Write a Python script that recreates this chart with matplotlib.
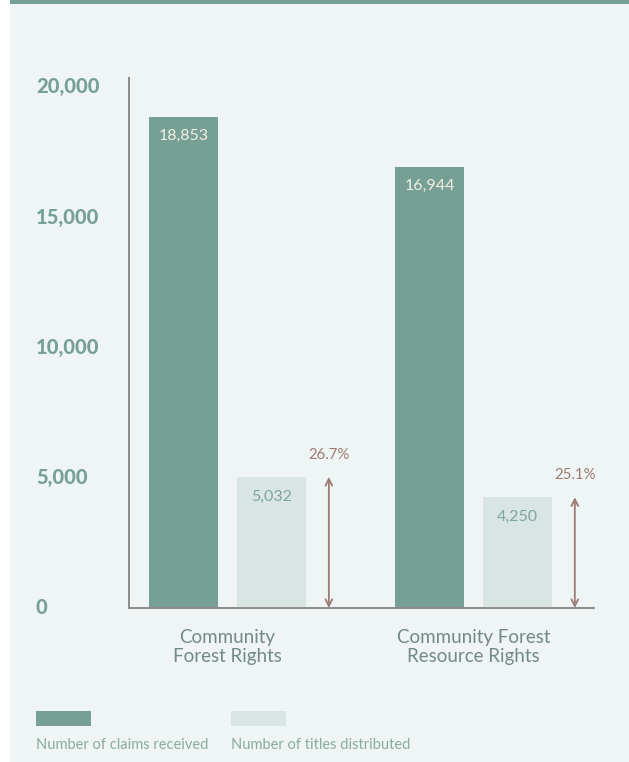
import matplotlib.pyplot as plt
import numpy as np
from matplotlib.patches import Rectangle

# forest rights claims vs titles
categories = ['Community\nForest Rights', 'Community Forest\nResource Rights']
claims = [18853, 16944]
titles = [5032, 4250]
shares = ['26.7%', '25.1%']
yticks = [0, 5000, 10000, 15000, 20000]

dark = '#76a096'
light = '#d8e5e2'
bg = '#eff5f5'
brown = '#9c7b73'

plt.rcParams['font.family'] = ['Lato', 'DejaVu Sans']

fig = plt.figure(figsize=(6.29, 7.62), dpi=100)
fig.patch.set_facecolor('white')
# panel background and top strip
fig.add_artist(Rectangle((10 / 629, 0), 1, 1, transform=fig.transFigure,
                         facecolor=bg, edgecolor='none', zorder=-2))
fig.add_artist(Rectangle((10 / 629, 1 - 4 / 762), 1, 4 / 762, transform=fig.transFigure,
                         facecolor=dark, edgecolor='none', zorder=-1))

ax = fig.add_axes([129 / 629, 1 - 608 / 762, 465 / 629, 530 / 762])
ax.set_facecolor('none')

x = np.arange(len(categories))
w = 0.28
off = 0.358
arr = 0.591

ax.bar(x, claims, width=w, color=dark, align='center', zorder=2)
ax.bar(x + off, titles, width=w, color=light, align='center', zorder=2)

for i in range(len(categories)):
    ax.annotate(f'{claims[i]:,}', (x[i], claims[i]), xytext=(0, -9),
                textcoords='offset points', ha='center', va='top',
                color='#f3efe4', fontsize=11.5)
    ax.annotate(f'{titles[i]:,}', (x[i] + off, titles[i]), xytext=(0, -9),
                textcoords='offset points', ha='center', va='top',
                color='#7fa59b', fontsize=11.5)
    ax.annotate('', xy=(x[i] + arr, titles[i]), xytext=(x[i] + arr, 0),
                arrowprops=dict(arrowstyle='<->', color=brown, lw=1.3,
                                shrinkA=0, shrinkB=0, mutation_scale=12))
    ax.annotate(shares[i], (x[i] + arr, titles[i]), xytext=(0, 11),
                textcoords='offset points', ha='center', va='bottom',
                color=brown, fontsize=10.8)
    ax.annotate(categories[i], (x[i] + off / 2, 0), xytext=(0, -15),
                textcoords='offset points', ha='center', va='top',
                color='#738985', fontsize=13.5, linespacing=1.15)

ax.set_xlim(-0.2215, 1.669)
ax.set_ylim(0, 20345)
ax.set_yticks([])
ax.set_xticks([])
# y labels sit at the left edge of the panel
for v in yticks:
    ax.text(-0.2, v, f'{v:,}', transform=ax.get_yaxis_transform(), ha='left',
            va='center', fontweight='black', color=dark, fontsize=14.5)

for s in ['top', 'right']:
    ax.spines[s].set_visible(False)
for s in ['left', 'bottom']:
    ax.spines[s].set_color('#8c8c8c')
    ax.spines[s].set_linewidth(1.4)

# legend
fig.add_artist(Rectangle((36 / 629, 1 - 726 / 762), 55 / 629, 15 / 762,
                         transform=fig.transFigure, facecolor=dark, edgecolor='none'))
fig.add_artist(Rectangle((231 / 629, 1 - 726 / 762), 55 / 629, 15 / 762,
                         transform=fig.transFigure, facecolor=light, edgecolor='none'))
fig.text(36 / 629, 1 - 745 / 762, 'Number of claims received', ha='left', va='center',
         color='#8aab9f', fontsize=10.5)
fig.text(231 / 629, 1 - 745 / 762, 'Number of titles distributed', ha='left', va='center',
         color='#8aab9f', fontsize=10.5)

fig.savefig('out.png', dpi=100, facecolor=fig.get_facecolor())
